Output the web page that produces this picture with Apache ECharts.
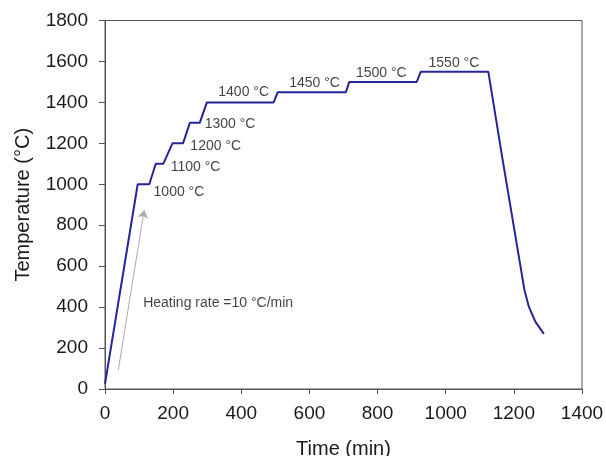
<!DOCTYPE html>
<html>
<head>
<meta charset="utf-8">
<script src="https://cdn.jsdelivr.net/npm/echarts@6/dist/echarts.min.js"></script>
<style>html,body{margin:0;padding:0;background:#fff}#c{width:606px;height:456px}</style>
</head>
<body>
<div id="c"></div>
<script>
// Temperature profile (time in min, temperature in °C)
var timeMin = [0, 96, 130, 149, 171, 198, 229, 249, 278, 299, 495, 507, 707, 717, 915, 927, 1125, 1166, 1231, 1244, 1263, 1288];
var tempC   = [25, 1000, 1000, 1100, 1100, 1200, 1200, 1300, 1300, 1400, 1400, 1450, 1450, 1500, 1500, 1550, 1550, 1130, 484, 402, 329, 269];

// Annotations (anchor in data units)
var noteText = ['1000 °C', '1100 °C', '1200 °C', '1300 °C', '1400 °C', '1450 °C', '1500 °C', '1550 °C'];
var noteX    = [217, 266, 325, 367, 407, 615, 811, 1024];
var noteY    = [962, 1085, 1187, 1295, 1451, 1495, 1544, 1593];
var rateText = 'Heating rate =10 °C/min';
var rateAt   = [112, 420];
var arrowFrom = [39, 93];
var arrowTo   = [115, 874];

var xTicks = [0, 200, 400, 600, 800, 1000, 1200, 1400];
var yTicks = [0, 200, 400, 600, 800, 1000, 1200, 1400, 1600, 1800];

var font = 'Liberation Sans, Arial, sans-serif';
var chart = echarts.init(document.getElementById('c'));
chart.setOption({
  animation: false,
  grid: {left: 105, right: 24, top: 20.5, bottom: 67, outerBoundsMode: 'none', containLabel: false,
         show: true, borderColor: '#555', borderWidth: 1, backgroundColor: 'transparent'},
  xAxis: {
    type: 'value', min: xTicks[0], max: xTicks[xTicks.length-1], interval: 200,
    name: 'Time (min)', nameLocation: 'middle', nameGap: 50,
    nameTextStyle: {fontFamily: font, fontSize: 20, color: '#1a1a1a'},
    axisLine: {lineStyle: {color: '#555', width: 1}},
    axisTick: {show: true, inside: false, length: 5, lineStyle: {color: '#555'}},
    axisLabel: {fontFamily: font, fontSize: 19, color: '#1a1a1a', margin: 15, formatter: function(v){ return String(v); }},
    splitLine: {show: false}
  },
  yAxis: {
    type: 'value', min: yTicks[0], max: yTicks[yTicks.length-1], interval: 200,
    name: 'Temperature (°C)', nameLocation: 'middle', nameGap: 72,
    nameTextStyle: {fontFamily: font, fontSize: 20, color: '#1a1a1a'},
    axisLine: {show: true, lineStyle: {color: '#555', width: 1}},
    axisTick: {show: true, inside: false, length: 6, lineStyle: {color: '#555'}},
    axisLabel: {fontFamily: font, fontSize: 19, color: '#1a1a1a', margin: 17, formatter: function(v){ return String(v); }},
    splitLine: {show: false}
  },
  series: [
    {
      type: 'line', data: timeMin.map(function(t, i){ return [t, tempC[i]]; }),
      showSymbol: false, symbol: 'none', smooth: false,
      lineStyle: {color: '#25259a', width: 2}, z: 3
    },
    {
      type: 'scatter', symbolSize: 0,
      data: noteText.map(function(s, i){ return {name: s, value: [noteX[i], noteY[i]]}; }),
      label: {show: true, position: 'inside', formatter: '{b}', fontFamily: font, fontSize: 14, color: '#111'},
      z: 4
    },
    {
      type: 'scatter', symbolSize: 0,
      data: [{name: rateText, value: rateAt}],
      label: {show: true, position: 'right', distance: 0, formatter: '{b}', fontFamily: font, fontSize: 14, color: '#111'},
      z: 4
    },
    {
      type: 'lines', coordinateSystem: 'cartesian2d',
      symbol: ['none', 'arrow'], symbolSize: 8,
      data: [{coords: [arrowFrom, arrowTo]}],
      lineStyle: {color: '#aaaaaa', width: 1, opacity: 1}, z: 2
    }
  ]
});
</script>
</body>
</html>
